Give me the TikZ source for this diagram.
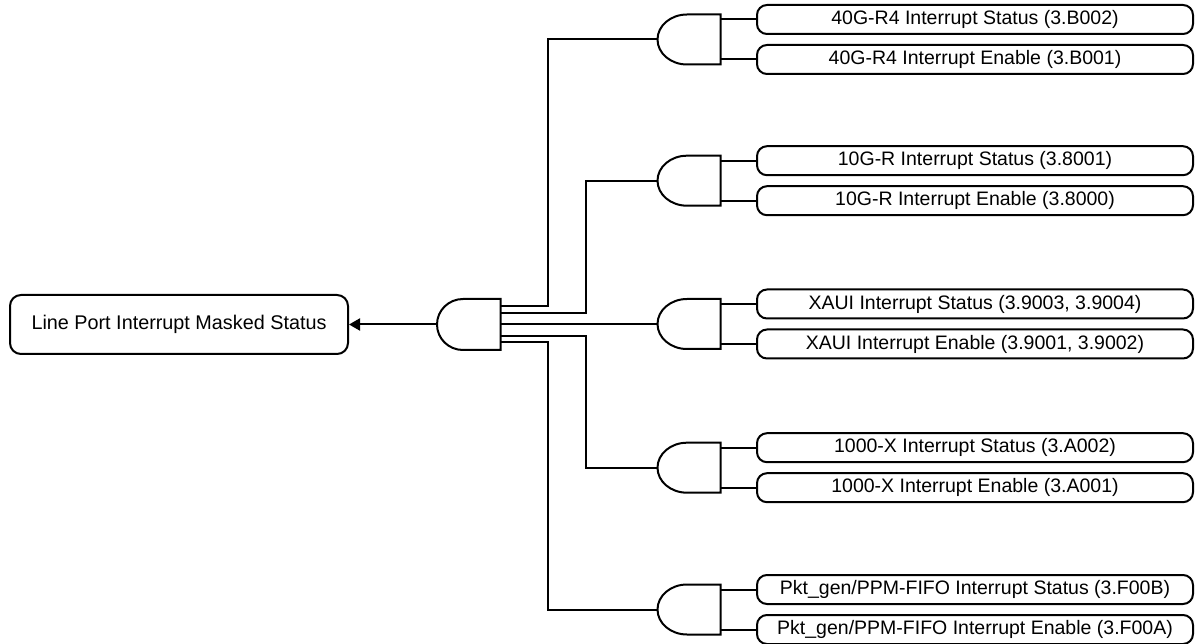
\documentclass[tikz,border=0pt]{standalone}
\usepackage{fontspec}
\setmainfont{Liberation Sans}
\usetikzlibrary{arrows.meta}
\newcommand\andgateshape[5]{% tip x, curve start x, back x, centre y, half height
  \draw[wire] (#3,#4-#5) -- (#2,#4-#5)
    .. controls ({#2-0.5523*(#2-#1)},#4-#5) and (#1,{#4-0.5523*#5}) .. (#1,#4)
    .. controls (#1,{#4+0.5523*#5}) and ({#2-0.5523*(#2-#1)},#4+#5) .. (#2,#4+#5)
    -- (#3,#4+#5) -- cycle;}
\begin{document}
\begin{tikzpicture}[x=1pt,y=-1pt,
  wire/.style={line width=2pt, line join=miter},
  lbl/.style={draw, line width=2pt, rounded corners=10pt, minimum width=436pt,
    minimum height=29pt, inner sep=0pt, font=\fontsize{19.5}{22}\selectfont},
  mainbox/.style={draw, line width=2pt, rounded corners=11pt, minimum width=338pt,
    minimum height=59pt, inner sep=0pt, font=\fontsize{19.8}{22}\selectfont}]
\useasboundingbox (0,0) rectangle (1195,644);

% main output node
\node[mainbox] (main) at (179,324.5) {Line Port Interrupt Masked Status};

% main gate
\andgateshape{437}{463}{500.5}{324.5}{25.5}
\coordinate (mo) at (437,324.5);
\coordinate (m1) at (500.5,305.7);
\coordinate (m2) at (500.5,313.3);
\coordinate (m3) at (500.5,324);
\coordinate (m4) at (500.5,335.7);
\coordinate (m5) at (500.5,341.7);
\draw[wire, -{Triangle[length=11pt,width=12pt]}] (mo) -- (main.east);

% sub gates
\foreach \n/\c in {1/39.5, 2/180.7, 3/324, 4/467.7, 5/609.5}{
  \andgateshape{657.5}{687}{720.5}{\c}{25}
  \coordinate (g\n) at (657.5,\c);
  \coordinate (g\n a) at (720.5,\c-20);
  \coordinate (g\n b) at (720.5,\c+20);
}

% label boxes
\node[lbl] (s1) at (975,19.5) {40G-R4 Interrupt Status (3.B002)};
\node[lbl] (e1) at (975,59.5) {40G-R4 Interrupt Enable (3.B001)};
\node[lbl] (s2) at (975,160.7) {10G-R Interrupt Status (3.8001)};
\node[lbl] (e2) at (975,200.7) {10G-R Interrupt Enable (3.8000)};
\node[lbl] (s3) at (975,304) {XAUI Interrupt Status (3.9003, 3.9004)};
\node[lbl] (e3) at (975,344) {XAUI Interrupt Enable (3.9001, 3.9002)};
\node[lbl] (s4) at (975,447.7) {1000-X Interrupt Status (3.A002)};
\node[lbl] (e4) at (975,487.7) {1000-X Interrupt Enable (3.A001)};
\node[lbl] (s5) at (975,589.5) {Pkt\_gen/PPM-FIFO Interrupt Status (3.F00B)};
\node[lbl] (e5) at (975,629.5) {Pkt\_gen/PPM-FIFO Interrupt Enable (3.F00A)};

% box to gate wires
\foreach \n in {1,...,5}{
  \draw[wire] (s\n.west) -- (g\n a);
  \draw[wire] (e\n.west) -- (g\n b);
}

% gate to main gate wires
\coordinate (v1) at (548.3,39.5);
\coordinate (v2) at (585.7,180.7);
\coordinate (v4) at (585.7,467.7);
\coordinate (v5) at (548.3,609.5);
\draw[wire] (m1) -| (v1) -- (g1);
\draw[wire] (m2) -| (v2) -- (g2);
\draw[wire] (m3) -- (g3);
\draw[wire] (m4) -| (v4) -- (g4);
\draw[wire] (m5) -| (v5) -- (g5);
\end{tikzpicture}
\end{document}
